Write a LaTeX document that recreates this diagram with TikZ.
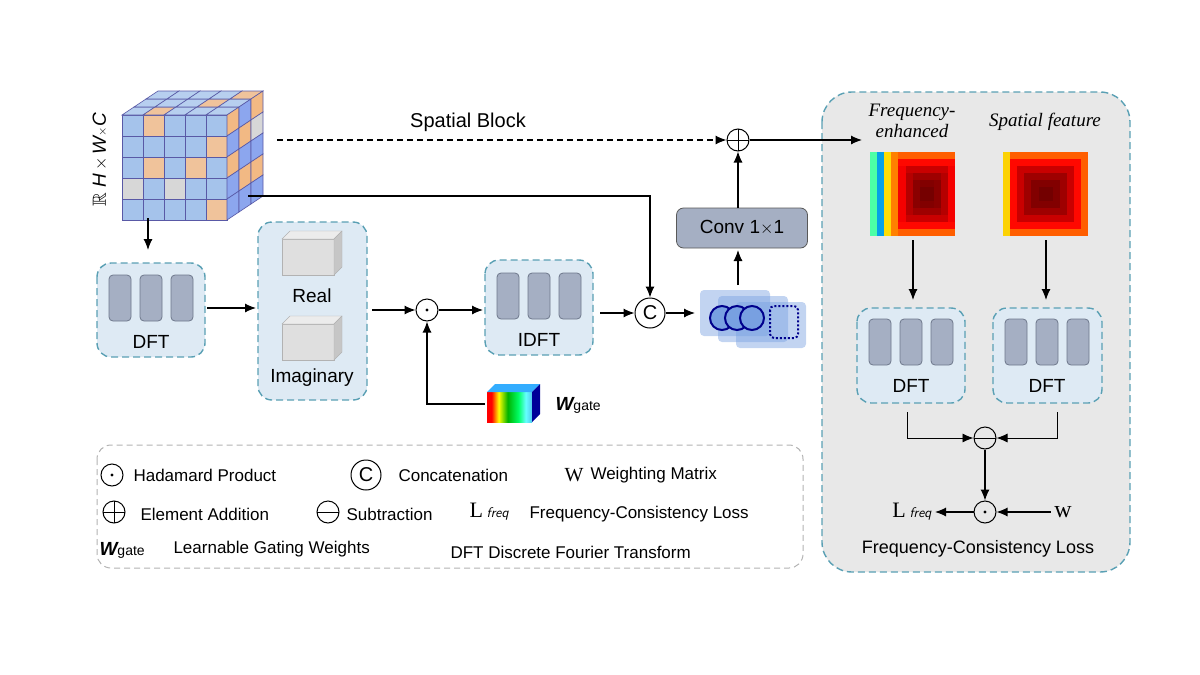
\documentclass[tikz,border=0pt]{standalone}
\usepackage{amssymb}
\usepackage{fontspec}
\setmainfont{Liberation Sans}
\newfontfamily\serifw{Liberation Serif}
\usetikzlibrary{arrows.meta,calc}
\definecolor{tealdash}{RGB}{90,160,180}
\definecolor{boxfill}{RGB}{222,234,244}
\definecolor{barfill}{RGB}{165,175,195}
\definecolor{barline}{RGB}{110,120,140}
\definecolor{cblue}{RGB}{165,195,235}
\definecolor{corange}{RGB}{240,195,155}
\definecolor{cgray}{RGB}{215,215,215}
\definecolor{panel}{RGB}{232,232,232}
\definecolor{fmblue}{RGB}{120,160,225}
\pgfdeclarehorizontalshading{rainbow}{100bp}{color(0bp)=(red);color(30bp)=(red);color(38bp)=(yellow);color(48bp)=(green!70!black);color(60bp)=(green!60!cyan);color(68bp)=(cyan!60!white);color(100bp)=(blue!70!black)}
\tikzset{
  x=1pt,y=-1pt,
  fs/.style={font=\fontsize{#1}{#1}\selectfont},
  dbox/.style={draw=tealdash,fill=boxfill,dashed,dash pattern=on 7pt off 4pt,line width=1.4pt,rounded corners=14pt},
  arr/.style={-{Latex[length=11pt,width=9pt]},line width=1.1pt},
  opc/.style={circle,draw,line width=1pt,minimum size=#1,inner sep=0pt},
  opc/.default=22pt,
  had/.style={opc,path picture={\fill (path picture bounding box.center) circle (1.6pt);}},
  add/.style={opc,path picture={\draw[line width=1pt] (path picture bounding box.west)--(path picture bounding box.east) (path picture bounding box.north)--(path picture bounding box.south);}},
  sub/.style={opc,path picture={\draw[line width=1pt] (path picture bounding box.west)--(path picture bounding box.east);}},
  bars/.pic={\foreach \dx in {-31,0,31}{\draw[barline,fill=barfill,line width=0.8pt,rounded corners=4pt] (\dx-11,-23) rectangle (\dx+11,23);}},
  slab/.pic={\fill[gray!25,draw=gray!60] (-30,-18) rectangle (22,18);
     \fill[gray!15,draw=gray!60] (-30,-18)--(-22,-26)--(30,-26)--(22,-18)--cycle;
     \fill[gray!45,draw=gray!60] (22,-18)--(30,-26)--(30,10)--(22,18)--cycle;}
}
\begin{document}
\begin{tikzpicture}
\useasboundingbox (0,0) rectangle (1200,675);
% panel
\draw[draw=tealdash,fill=panel,dash pattern=on 7pt off 4pt,line width=1.4pt,rounded corners=30pt] (822,92) rectangle (1130,572);
% cube
\def\cs{21}
\foreach \r/\row in {0/{b,o,b,b,b},1/{b,b,b,b,o},2/{b,o,b,o,b},3/{g,b,g,b,b},4/{b,b,b,b,o}}{
  \foreach \c [count=\i from 0] in \row {
    \if\c o\def\cc{corange}\else\if\c g\def\cc{cgray}\else\def\cc{cblue}\fi\fi
    \draw[fill=\cc,draw=gray!70!blue,line width=0.6pt] (122+\cs*\i,115+\cs*\r) rectangle ++(\cs,\cs);
  }}
\foreach \j/\row in {0/{b,o,b,b,b},1/{b,b,b,o,b},2/{b,b,b,b,o}}{
  \foreach \c [count=\i from 0] in \row {
    \if\c o\def\cc{corange}\else\def\cc{cblue!80!white}\fi
    \draw[fill=\cc,draw=gray!70!blue,line width=0.6pt] (122+\cs*\i+12*\j,115-8*\j) -- ++(\cs,0) -- ++(12,-8) -- ++(-\cs,0) -- cycle;
  }}
\foreach \j/\row in {0/{o,b,o,b,b},1/{b,o,b,o,b},2/{o,g,b,o,b}}{
  \foreach \c [count=\r from 0] in \row {
    \if\c o\def\cc{corange!85!orange}\else\if\c g\def\cc{cgray}\else\def\cc{cblue!85!blue}\fi\fi
    \draw[fill=\cc,draw=gray!70!blue,line width=0.6pt] (227+12*\j,115+\cs*\r-8*\j) -- ++(12,-8) -- ++(0,\cs) -- ++(-12,8) -- cycle;
  }}
\node[rotate=90,fs=19,anchor=center] (rlab) at (100,160) {$\mathbb{R}$ \itshape H\,\textrm{\upshape$\times$}\,W\textrm{\upshape\fontsize{12}{12}\selectfont$\times$}C};
\coordinate (cubeR2) at (248,196);
\coordinate (cubeB) at (148,218);
% spatial block
\node[add] (plus) at (738,140) {};
\draw[arr,dashed,dash pattern=on 6pt off 4pt] (277,140) -- (plus);
\node[fs=20] (sb) at (468,122) {Spatial Block};
% DFT
\draw[dbox] (97,263) rectangle (205,357);
\pic at (151,298) {bars};
\node[fs=19] (dft1) at (151,342) {DFT};
\coordinate (dftT) at (148,250);
\draw[arr] (cubeB) -- (dftT);
% Real/Imag
\draw[dbox] (258,222) rectangle (367,400);
\pic at (312,257) {slab};
\pic at (312,342) {slab};
\node[fs=19] (real) at (312,296) {Real};
\node[fs=19] (imag) at (312,378) {Imaginary};
\draw[arr] (207,308) -- (256,308);
\node[had] (h1) at (427,310) {};
\draw[arr] (372,310) -- (h1);
% IDFT
\draw[dbox] (485,260) rectangle (593,355);
\pic at (539,296) {bars};
\node[fs=19] (idft) at (539,340) {IDFT};
\draw[arr] (h1) -- (483,310);
\node[opc=30pt,fs=20] (cat) at (650,313) {C};
\draw[arr] (600,313) -- (cat);
\draw[arr] (cubeR2) -| (cat);
% feature maps
\foreach \dx/\dy in {0/0,18/6,36/12}{
  \fill[fmblue,opacity=0.45,rounded corners=4pt] (700+\dx,290+\dy) rectangle ++(70,46);
}
\foreach \dx in {0,15,30}{\draw[blue!55!black,line width=2pt,fill=fmblue] (722+\dx,318) circle (12);}
\draw[blue!55!black,line width=2pt,dotted,rounded corners=4pt] (770,306) rectangle (798,338);
\coordinate (fmR) at (695,313);
\draw[arr] (cat) -- (fmR);
% conv
\node[draw=gray!70!black,fill=barfill,rounded corners=7pt,minimum width=131pt,minimum height=40pt,fs=19,line width=0.8pt] (conv) at (742,228) {Conv 1$\times$1};
\coordinate (fmT) at (738,285);
\draw[arr] (fmT) -- (738,250);
\draw[arr] (738,208) -- (plus);
\coordinate (panelL) at (862,140);
\draw[arr] (plus) -- (panelL);
% gate
\shade[shading=rainbow] (487,392) rectangle (532,422);
\fill[blue!40!cyan!80!white] (487,392)--(495,384)--(540,384)--(532,392)--cycle;
\fill[blue!60!black] (532,392)--(540,384)--(540,414)--(532,422)--cycle;
\node[fs=19,anchor=west] (wg) at (552,405) {\bfseries\itshape W\fontsize{14}{14}\selectfont\mdseries\upshape gate};
\draw[arr] (485,404) -| (h1);
% panel content
\node[align=center,font=\serifw\itshape\fontsize{19}{21}\selectfont] (fe) at (912,121) {Frequency-\\enhanced};
\node[font=\serifw\itshape\fontsize{19}{19}\selectfont] (sf) at (1045,122) {Spatial feature};
% heatmaps
\foreach \i in {0,...,11}{\foreach \j in {0,...,11}{
  \pgfmathsetmacro\d{max(abs(\i-5.5),abs(\j-5.5))/5.5}
  \pgfmathtruncatemacro\p{\d<0.8 ? 45+55*(\d/0.8)^2 : 100}
  \pgfmathtruncatemacro\q{\d<0.8 ? 0 : 75*(\d-0.8)/0.2}
  \ifnum\i=0 \def\hc{yellow!70!orange}\else\def\hc{orange!\q!red!\p!black}\fi
  \fill[\hc] (1003+7.1*\i,152+7*\j) rectangle ++(7.2,7.1);
  \pgfmathsetmacro\e{max(abs(\i-7.5)/4.5,abs(\j-5.5)/5.5)}
  \pgfmathtruncatemacro\p{\e<0.8 ? 45+55*(\e/0.8)^2 : 100}
  \pgfmathtruncatemacro\q{\e<0.8 ? 0 : min(100,75*(\e-0.8)/0.2)}
  \def\hc{orange!\q!red!\p!black}
  \ifnum\i=3 \def\hc{orange}\fi
  \ifnum\i=2 \def\hc{yellow!80!orange}\fi
  \ifnum\i=1 \def\hc{cyan!90!blue}\fi
  \ifnum\i=0 \def\hc{green!50!cyan!70!white}\fi
  \fill[\hc] (870+7.1*\i,152+7*\j) rectangle ++(7.2,7.1);
}}
\draw[dbox] (857,308) rectangle (965,403);
\pic at (911,342) {bars};
\node[fs=19] (dft2) at (911,386) {DFT};
\draw[dbox] (993,308) rectangle (1102,403);
\pic at (1047,342) {bars};
\node[fs=19] (dft3) at (1047,386) {DFT};
\draw[arr] (913,240) -- (913,300);
\draw[arr] (1046,240) -- (1046,300);
\node[sub] (minus) at (985,438) {};
\node[had] (h2) at (985,512) {};
\draw[arr,line width=0.9pt] (907,412) |- (minus);
\draw[arr,line width=0.9pt] (1057,412) |- (minus);
\draw[arr] (minus) -- (h2);
\node[font=\serifw\fontsize{24}{24}\selectfont] (w2) at (1063,512) {w};
\draw[arr] (w2) -- (h2);
\node[fs=22,anchor=east] (lf) at (935,512) {\serifw L\,\fontsize{14}{14}\selectfont\itshape\sffamily freq};
\draw[arr] (h2) -- (lf);
\node[fs=18] (fcl) at (978,549) {Frequency-Consistency Loss};
% legend
\draw[gray!60,dash pattern=on 6pt off 4pt,line width=1pt,rounded corners=14pt] (97,445) rectangle (803,568);
\node[had] (lg1) at (112,475) {};
\node[fs=17,anchor=west] at (130,475) {Hadamard Product};
\node[opc=30pt,fs=20] (lg2) at (366,475) {C};
\node[fs=17,anchor=west] at (395,475) {Concatenation};
\node[font=\serifw\fontsize{20}{20}\selectfont] (lg3) at (574,475) {W};
\node[fs=17,anchor=west] at (587,475) {Weighting Matrix};
\node[add] (lg4) at (114,512) {};
\node[fs=17,anchor=west] at (137,514) {Element Addition};
\node[sub] (lg5) at (328,512) {};
\node[fs=17,anchor=west] at (343,514) {Subtraction};
\node[fs=22,anchor=west] (lg6) at (466,512) {\serifw L\,\fontsize{14}{14}\selectfont\itshape\sffamily freq};
\node[fs=17,anchor=west] at (526,514) {Frequency-Consistency Loss};
\node[fs=19,anchor=west] (lg7) at (96,550) {\bfseries\itshape W\fontsize{14}{14}\selectfont\mdseries\upshape gate};
\node[fs=17,anchor=west] at (170,549) {Learnable Gating Weights};
\node[fs=17,anchor=west] at (447,552) {DFT Discrete Fourier Transform};
\end{tikzpicture}
\end{document}
